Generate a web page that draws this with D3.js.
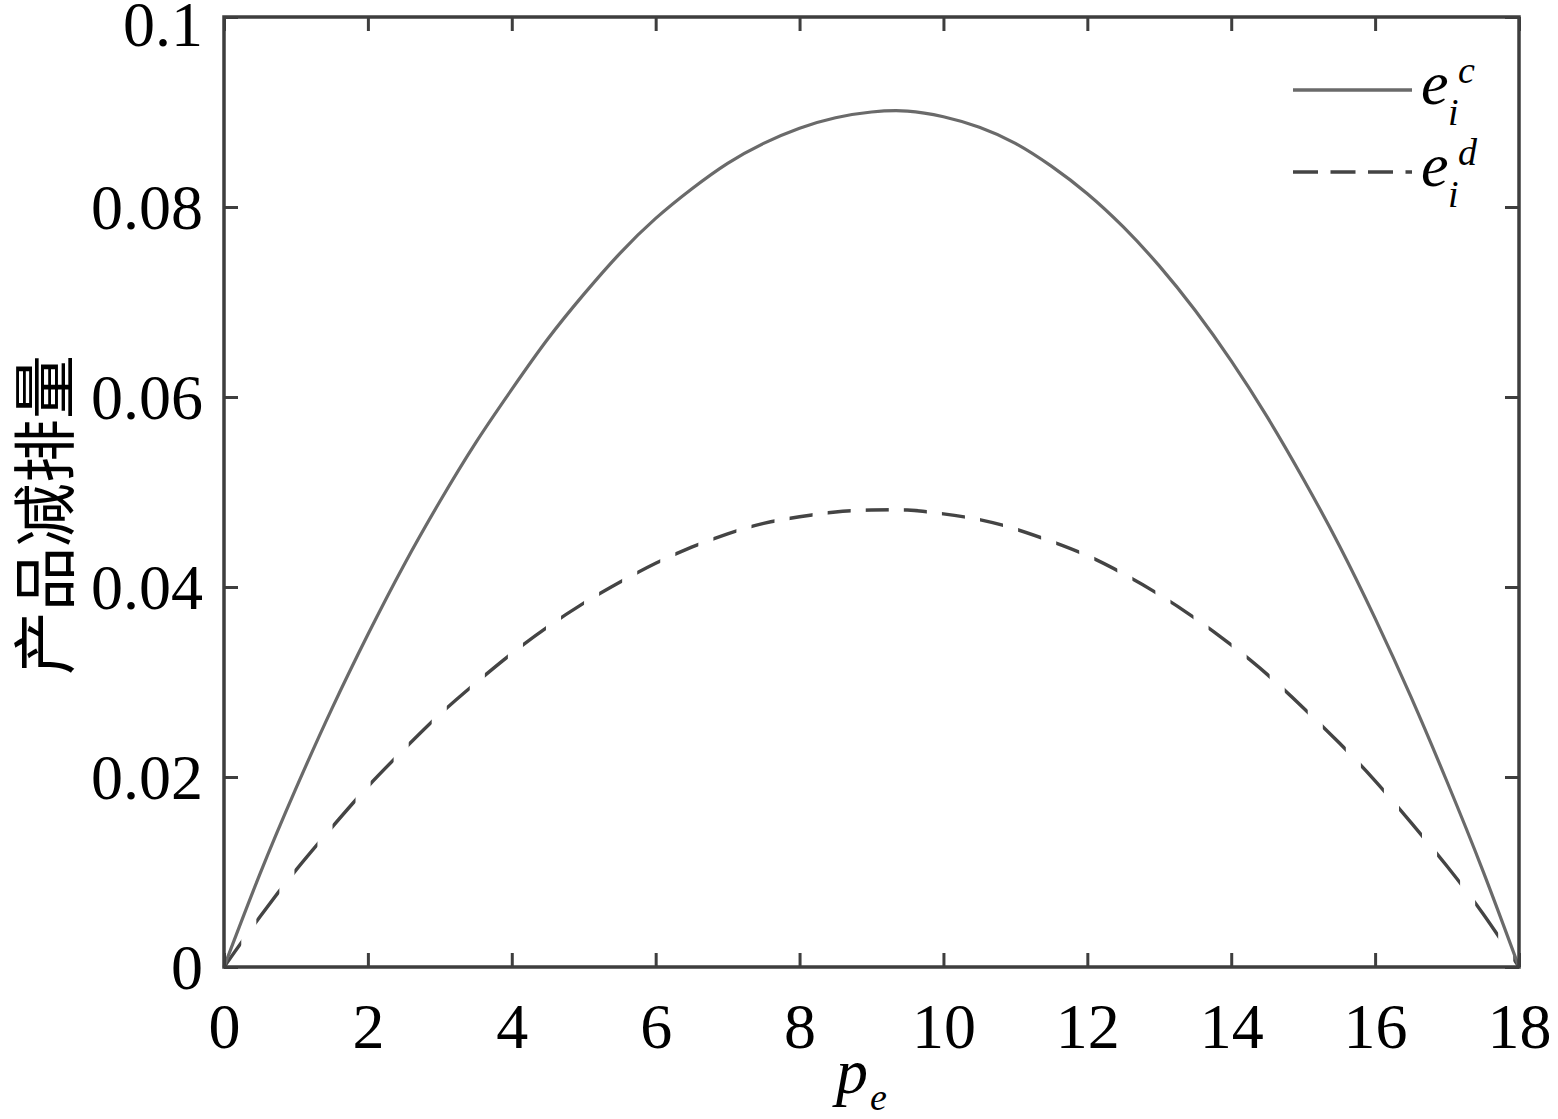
<!DOCTYPE html>
<html><head><meta charset="utf-8">
<script src="https://cdn.jsdelivr.net/npm/d3@7"></script>
<style>
html,body{margin:0;padding:0;background:#fff;}
svg{display:block;}
</style></head>
<body>
<script>
// ---- data ----
const pe = [0,0.5,1,1.5,2,2.5,3,3.5,4,4.5,5,5.5,6,6.5,7,7.5,8,8.5,9,9.5,10,10.5,11,11.5,12,12.5,13,13.5,14,14.5,15,15.5,16,16.5,17,17.5,18];
const eic = [0,0.0098,0.0188,0.0272,0.0350,0.0423,0.0490,0.0552,0.0608,0.0661,0.0708,0.0751,0.0788,0.0819,0.0846,0.0867,0.0883,0.0894,0.0900,0.0901,0.0895,0.0884,0.0867,0.0843,0.0814,0.0779,0.0738,0.0691,0.0638,0.0579,0.0514,0.0444,0.0367,0.0284,0.0195,0.0101,0];
const eid = [0,0.0053,0.0102,0.0147,0.0190,0.0229,0.0266,0.0299,0.0330,0.0358,0.0383,0.0405,0.0425,0.0442,0.0456,0.0467,0.0474,0.0479,0.0481,0.0481,0.0477,0.0471,0.0461,0.0448,0.0433,0.0414,0.0392,0.0367,0.0339,0.0308,0.0273,0.0236,0.0196,0.0152,0.0106,0.0056,0];
const xTicks = [0,2,4,6,8,10,12,14,16,18];
const yTicks = [0,0.02,0.04,0.06,0.08,0.1];
const seriesNames = ["c","d"];
const yLabel = "产品减排量";

const W = 1558, H = 1119;
const svg = d3.select("body").append("svg").attr("width", W).attr("height", H);
const x = d3.scaleLinear().domain([0,18]).range([224,1519]);
const y = d3.scaleLinear().domain([0,0.1]).range([967,17]);
const frameColor = "#3e3e3e";
const serif = "'Liberation Serif','Times New Roman',serif";

// curves
const line = d3.line().x(d=>x(d[0])).y(d=>y(d[1])).curve(d3.curveNatural);
const solidData = pe.map((p,i)=>[p,eic[i]]);
const dashData = pe.map((p,i)=>[p,eid[i]]);

// dash pattern periodic in x (as in the reference rendering)
const dashPeriod = 18/34, dashOn = 0.32, dashPhase = -0.08;
const clip = svg.append("defs").append("clipPath").attr("id","dashclip");
const starts = d3.range(0,36).map(k=>dashPhase + k*dashPeriod);
clip.selectAll("rect").data(starts).join("rect")
  .attr("x", s=>x(s)).attr("width", s=>x(s+dashOn)-x(s))
  .attr("y", 0).attr("height", H);

svg.append("path").datum(dashData).attr("d", line)
  .attr("fill","none").attr("stroke","#444").attr("stroke-width",3.4)
  .attr("clip-path","url(#dashclip)");
svg.append("path").datum(solidData).attr("d", line)
  .attr("fill","none").attr("stroke","#6a6a6a").attr("stroke-width",3.2);

// axes
const tl = 14;
const gB = svg.append("g").attr("transform",`translate(0,${y(0)})`)
  .call(d3.axisBottom(x).tickValues(xTicks).tickSize(-tl).tickFormat(d3.format("d")));
const gT = svg.append("g").attr("transform",`translate(0,${y(0.1)})`)
  .call(d3.axisTop(x).tickValues(xTicks).tickSize(-tl).tickFormat(""));
const gL = svg.append("g").attr("transform",`translate(${x(0)},0)`)
  .call(d3.axisLeft(y).tickValues(yTicks).tickSize(-tl).tickFormat(d=>d===0?"0":d3.format(".2~f")(d)));
const gR = svg.append("g").attr("transform",`translate(${x(18)},0)`)
  .call(d3.axisRight(y).tickValues(yTicks).tickSize(-tl).tickFormat(""));
[gB,gT,gL,gR].forEach(g=>{
  g.select(".domain").remove();
  g.selectAll(".tick line").attr("stroke",frameColor).attr("stroke-width",3);
});
gB.selectAll(".tick text").attr("y",81).attr("dy",0)
  .attr("font-family",serif).attr("font-size",64).attr("fill","#000");
gL.selectAll(".tick text").attr("x",-21).attr("dy",d=>d===0.1?28:21)
  .attr("font-family",serif).attr("font-size",64).attr("fill","#000");

// frame
svg.append("rect").attr("x",x(0)).attr("y",y(0.1))
  .attr("width",x(18)-x(0)).attr("height",y(0)-y(0.1))
  .attr("fill","none").attr("stroke",frameColor).attr("stroke-width",3.5);

// legend
const lg = svg.append("g");
const rows = [{name:seriesNames[0], yy:90, dash:null, color:"#6a6a6a"},
              {name:seriesNames[1], yy:172, dash:"25,12.5", color:"#444"}];
rows.forEach((r,i)=>{
  lg.append("line").attr("x1",1293).attr("x2",1412).attr("y1",r.yy).attr("y2",r.yy)
    .attr("stroke",r.color).attr("stroke-width",3.4).attr("stroke-dasharray",r.dash);
  lg.append("text").attr("x",1421).attr("y",r.yy+14).text("e")
    .attr("font-family",serif).attr("font-style","italic").attr("font-size",62);
  lg.append("text").attr("x",1458).attr("y",r.yy-7).text(r.name)
    .attr("font-family",serif).attr("font-style","italic").attr("font-size",38);
  lg.append("text").attr("x",1448).attr("y",r.yy+35).text("i")
    .attr("font-family",serif).attr("font-style","italic").attr("font-size",38);
});

// x label
const xl = svg.append("text").attr("x",836).attr("y",1093)
  .attr("font-family",serif).attr("font-style","italic").attr("font-size",64);
xl.append("tspan").text("p");
xl.append("tspan").attr("font-size",38).attr("dy",17).attr("dx",2).text("e");

// y label
svg.append("text").attr("transform","translate(40,515) rotate(-90)")
  .attr("text-anchor","middle").attr("dominant-baseline","central")
  .attr("font-family","'Noto Sans CJK SC',sans-serif")
  .attr("font-size",64).attr("fill","#000").text(yLabel);
</script>
</body></html>
